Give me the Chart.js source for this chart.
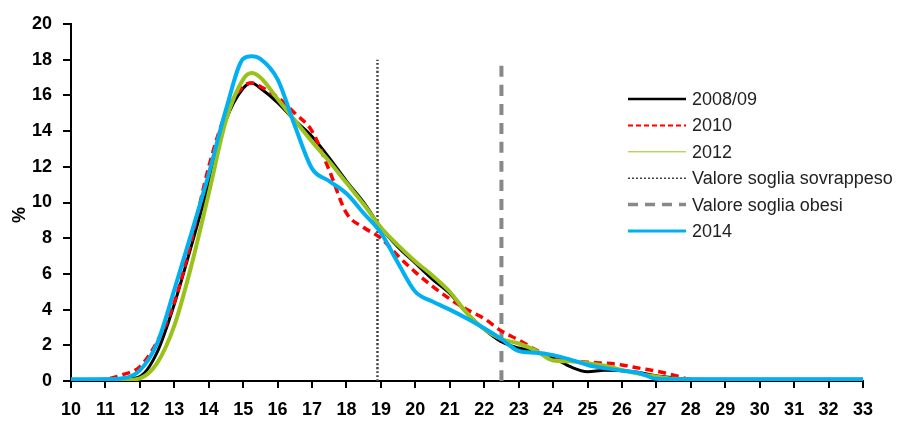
<!DOCTYPE html>
<html>
<head>
<meta charset="utf-8">
<script src="https://cdn.jsdelivr.net/npm/chart.js@4.4.1/dist/chart.umd.min.js"></script>
<style>
  html, body { margin: 0; padding: 0; background: #fff; }
  #wrap { width: 899px; height: 421px; position: relative; }
</style>
</head>
<body>
<div id="wrap"><canvas id="bmiChart"></canvas></div>
<script>
// Valori (BMI sull'asse x, % sull'asse y)
const bmi = [10, 10.5, 11, 11.5, 12, 12.5, 13, 13.5, 14, 14.5, 15, 15.25, 15.5, 16, 16.5, 17, 17.5, 18, 18.5,
  19, 19.5, 20, 20.5, 21, 21.5, 22, 22.5, 23, 23.5, 24, 24.5, 25, 25.5, 26, 26.5, 27, 27.5, 28, 29, 30, 31, 32, 33];

const y2008 = [0.05, 0.05, 0.05, 0.1, 0.25, 1.6, 4.3, 7.6, 11.0, 14.6, 16.4, 16.7, 16.4, 15.6, 14.6, 13.7, 12.5, 11.2, 10.0,
  8.6, 7.5, 6.6, 5.7, 4.9, 3.8, 2.9, 2.2, 1.85, 1.65, 1.3, 0.8, 0.52, 0.6, 0.58, 0.48, 0.3, 0.18, 0.08, 0.05, 0.05, 0.05, 0.05, 0.05];
const y2010 = [0.05, 0.05, 0.1, 0.35, 0.8, 2.2, 4.4, 7.9, 12.0, 15.0, 16.5, 16.7, 16.5, 15.9, 15.0, 14.0, 11.8, 9.4, 8.6,
  8.0, 7.0, 6.1, 5.3, 4.6, 4.0, 3.5, 2.8, 2.3, 1.75, 1.35, 1.15, 1.05, 1.0, 0.9, 0.72, 0.55, 0.33, 0.1, 0.05, 0.05, 0.05, 0.05, 0.05];
const y2012 = [0.05, 0.05, 0.1, 0.05, 0.15, 1.0, 3.1, 6.5, 10.5, 14.6, 16.9, 17.25, 17.0, 15.8, 14.6, 13.4, 12.3, 11.1, 9.9,
  8.6, 7.6, 6.7, 5.9, 5.0, 3.8, 2.9, 2.35, 2.1, 1.7, 1.15, 1.1, 1.0, 0.85, 0.62, 0.4, 0.25, 0.12, 0.08, 0.08, 0.08, 0.08, 0.08, 0.08];
const y2014 = [0.1, 0.1, 0.1, 0.15, 0.6, 2.1, 5.1, 8.3, 11.6, 15.2, 18.05, 18.2, 18.05, 16.9, 14.3, 11.9, 11.2, 10.5, 9.4,
  8.3, 6.6, 5.0, 4.45, 4.0, 3.5, 2.95, 2.35, 1.68, 1.58, 1.45, 1.2, 0.9, 0.72, 0.58, 0.45, 0.12, 0.1, 0.1, 0.1, 0.1, 0.1, 0.1, 0.1];

// Valori soglia (linee verticali)
const sogliaSovrappeso = 18.9;
const sogliaObesi = 22.5;
const sogliaAltezza = 18;

const xTicks = [10, 33];
const yTicks = [0, 20];

function toPoints(ys) {
  return bmi.map((x, i) => ({ x: x, y: ys[i] }));
}

const series = [
  { label: "2008/09", data: toPoints(y2008), color: "#000000", width: 3, dash: [], legendWidth: 2.5, legendDash: [], order: 4 },
  { label: "2010", data: toPoints(y2010), color: "#FF0000", width: 3.5, dash: [8, 5], legendWidth: 2, legendDash: [5, 3], order: 3 },
  { label: "2012", data: toPoints(y2012), color: "#99C31A", width: 4, dash: [], legendWidth: 1, legendDash: [], order: 2 },
  { label: "Valore soglia sovrappeso", data: [{ x: sogliaSovrappeso, y: 0 }, { x: sogliaSovrappeso, y: sogliaAltezza }],
    color: "#444444", width: 2.5, dash: [2, 2], legendWidth: 1.5, legendDash: [2, 2], order: 5 },
  { label: "Valore soglia obesi", data: [{ x: sogliaObesi, y: 0 }, { x: sogliaObesi, y: sogliaAltezza }],
    color: "#888888", width: 4, dash: [11, 8], legendWidth: 3.5, legendDash: [10, 7], order: 6 },
  { label: "2014", data: toPoints(y2014), color: "#00B0F0", width: 4, dash: [], legendWidth: 3, legendDash: [], order: 1 },
];

// Legenda e titolo asse y disegnati a mano
const extraPlugin = {
  id: "extra",
  afterDraw(chart) {
    const ctx = chart.ctx;
    ctx.save();
    // legenda
    const lx0 = 628, lx1 = 686, tx = 692, y0 = 99, dy = 26.4;
    ctx.font = "18px 'Liberation Sans', Arial, sans-serif";
    ctx.textBaseline = "middle";
    series.forEach((s, i) => {
      const y = y0 + i * dy;
      ctx.beginPath();
      ctx.strokeStyle = s.color;
      ctx.lineWidth = s.legendWidth;
      ctx.setLineDash(s.legendDash);
      ctx.moveTo(lx0, y);
      ctx.lineTo(lx1, y);
      ctx.stroke();
      ctx.setLineDash([]);
      ctx.fillStyle = "#222";
      ctx.fillText(s.label, tx, y + 1);
    });
    // titolo asse y
    ctx.translate(20, 215);
    ctx.rotate(-Math.PI / 2);
    ctx.font = "bold 18px 'Liberation Sans', Arial, sans-serif";
    ctx.textAlign = "center";
    ctx.textBaseline = "middle";
    ctx.fillStyle = "#000";
    ctx.fillText("%", 0, 0);
    ctx.restore();
  },
};

const ctx = document.getElementById("bmiChart").getContext("2d");

new Chart(ctx, {
  type: "line",
  data: {
    datasets: series.map((s) => ({
      label: s.label,
      data: s.data,
      borderColor: s.color,
      backgroundColor: s.color,
      borderWidth: s.width,
      borderDash: s.dash,
      pointRadius: 0,
      fill: false,
      cubicInterpolationMode: "monotone",
      order: s.order,
    })),
  },
  options: {
    responsive: true,
    maintainAspectRatio: false,
    animation: false,
    layout: { padding: { top: 24, right: 36, left: 0, bottom: 0 } },
    plugins: {
      legend: { display: false },
      tooltip: { enabled: false },
    },
    scales: {
      x: {
        type: "linear",
        min: xTicks[0],
        max: xTicks[1],
        afterFit(axis) { axis.height = 40; },
        ticks: {
          stepSize: 1,
          color: "#000",
          padding: 11,
          maxRotation: 0,
          autoSkip: false,
          font: { family: "'Liberation Sans', Arial, sans-serif", size: 18, weight: "bold" },
        },
        grid: { display: true, drawOnChartArea: false, drawTicks: true, tickLength: 7, color: "#000", lineWidth: 2 },
        border: { display: true, color: "#000", width: 2 },
      },
      y: {
        min: yTicks[0],
        max: yTicks[1],
        afterFit(axis) { axis.width = 71; },
        ticks: {
          stepSize: 2,
          color: "#000",
          padding: 11,
          font: { family: "'Liberation Sans', Arial, sans-serif", size: 18, weight: "bold" },
        },
        grid: { display: true, drawOnChartArea: false, drawTicks: true, tickLength: 8, color: "#000", lineWidth: 2 },
        border: { display: true, color: "#000", width: 2 },
      },
    },
  },
  plugins: [extraPlugin],
});
</script>
</body>
</html>
